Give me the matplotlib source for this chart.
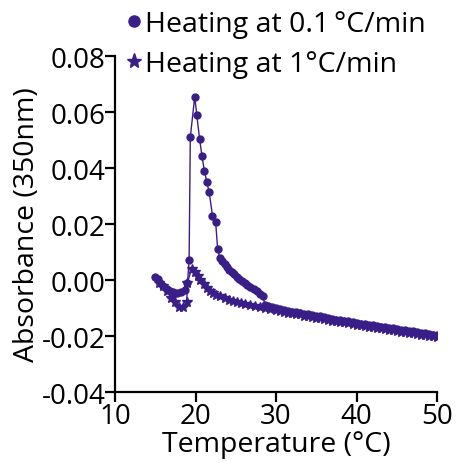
import matplotlib
matplotlib.use("Agg")
import matplotlib.pyplot as plt
from matplotlib.lines import Line2D
from matplotlib.ticker import FormatStrFormatter

plt.rcParams['font.family'] = ['Open Sans', 'DejaVu Sans']
plt.rcParams['axes.unicode_minus'] = False

purple = '#3a1e88'

# heating at 0.1 C/min (circles)
slow_temp = [15.0, 15.3, 15.6, 16.0, 16.4, 16.8, 17.2, 17.7, 18.2, 18.7,
             19.0, 19.2, 19.35, 19.9, 20.15, 20.5, 20.8, 21.1, 21.4, 21.7,
             22.1, 22.5, 22.75, 23.0, 23.3, 23.6, 23.9, 24.2, 24.5, 24.8,
             25.1, 25.4, 25.8, 26.1, 26.4, 26.8, 27.2, 27.6, 28.0, 28.4,
             28.6, 29.0, 29.5, 30.0, 30.5, 31.0, 31.5, 32.0, 32.5, 33.0,
             33.5, 34.0, 34.5, 35.0, 35.5, 36.0, 36.5, 37.0, 37.5, 38.0,
             38.5, 39.0, 39.5, 40.0, 40.5, 41.0, 41.5, 42.0, 42.5, 43.0,
             43.5, 44.0, 44.5, 45.0, 45.5, 46.0, 46.5, 47.0, 47.5, 48.0,
             48.5, 49.0, 49.5, 50.0]
slow_abs = [0.0012, 0.0002, -0.0010, -0.0022, -0.0033, -0.0038, -0.0042, -0.0045, -0.0043, -0.0035,
            -0.0010, 0.0070, 0.0510, 0.0655, 0.0590, 0.0505, 0.0442, 0.0390, 0.0350, 0.0313,
            0.0230, 0.0206, 0.0110, 0.0080, 0.0068, 0.0057, 0.0046, 0.0036, 0.0028, 0.0020,
            0.0011, 0.0003, -0.0005, -0.0012, -0.0018, -0.0025, -0.0032, -0.0040, -0.0049, -0.0058,
            -0.0088, -0.0091, -0.0095, -0.0100, -0.0103, -0.0107, -0.0109, -0.0113, -0.0115, -0.0118,
            -0.0120, -0.0123, -0.0125, -0.0128, -0.0130, -0.0133, -0.0136, -0.0138, -0.0141, -0.0143,
            -0.0146, -0.0148, -0.0151, -0.0153, -0.0156, -0.0157, -0.0160, -0.0162, -0.0164, -0.0166,
            -0.0169, -0.0170, -0.0173, -0.0175, -0.0177, -0.0179, -0.0182, -0.0183, -0.0186, -0.0188,
            -0.0190, -0.0193, -0.0195, -0.0198]

# heating at 1 C/min (stars)
fast_temp = [15.5, 16.0, 16.5, 17.0, 17.4, 17.9, 18.5, 18.9, 19.0, 19.5,
             19.9, 20.3, 20.6, 21.0, 21.4, 21.8, 22.2, 22.6, 23.1, 23.6,
             24.1, 24.6, 25.1, 25.6, 26.2, 26.8, 27.4, 28.0, 28.6, 29.3,
             30.0, 30.5, 31.0, 31.5, 32.0, 32.5, 33.0, 33.5, 34.0, 34.5,
             35.0, 35.5, 36.0, 36.5, 37.0, 37.5, 38.0, 38.5, 39.0, 39.5,
             40.0, 40.5, 41.0, 41.5, 42.0, 42.5, 43.0, 43.5, 44.0, 44.5,
             45.0, 45.5, 46.0, 46.5, 47.0, 47.5, 48.0, 48.5, 49.0, 49.5,
             50.0]
fast_abs = [-0.0010, -0.0020, -0.0040, -0.0065, -0.0080, -0.0098, -0.0098, -0.0080, -0.0010, 0.0040,
            0.0030, 0.0015, 0.0000, -0.0015, -0.0030, -0.0038, -0.0045, -0.0052, -0.0058, -0.0064,
            -0.0070, -0.0075, -0.0078, -0.0082, -0.0086, -0.0090, -0.0093, -0.0097, -0.0100, -0.0104,
            -0.0108, -0.0112, -0.0113, -0.0117, -0.0119, -0.0122, -0.0123, -0.0127, -0.0128, -0.0132,
            -0.0134, -0.0136, -0.0140, -0.0142, -0.0145, -0.0147, -0.0150, -0.0151, -0.0155, -0.0157,
            -0.0160, -0.0161, -0.0165, -0.0166, -0.0169, -0.0170, -0.0173, -0.0175, -0.0177, -0.0180,
            -0.0181, -0.0184, -0.0185, -0.0188, -0.0190, -0.0192, -0.0195, -0.0196, -0.0199, -0.0201,
            -0.0204]

x_ticks = [10, 20, 30, 40, 50]
y_ticks = [-0.04, -0.02, 0.00, 0.02, 0.04, 0.06, 0.08]
legend_labels = ['Heating at 0.1\u2009\u00b0C/min', 'Heating at 1\u00b0C/min']

fig = plt.figure(figsize=(4.62, 4.64), dpi=100)
ax = fig.add_axes([0.249, 0.153, 0.697, 0.724])

ax.plot(slow_temp, slow_abs, color=purple, lw=1.0, marker='o', markersize=5,
        markeredgecolor=purple, markerfacecolor=purple)
ax.plot(fast_temp, fast_abs, color=purple, lw=1.0, marker='*', markersize=7,
        markeredgecolor=purple, markerfacecolor=purple)

ax.set_xlim(10, 50)
ax.set_ylim(-0.04, 0.08)
ax.set_xticks(x_ticks)
ax.set_yticks(y_ticks)
ax.yaxis.set_major_formatter(FormatStrFormatter('%.2f'))

for side in ['top', 'right']:
    ax.spines[side].set_visible(False)
for side in ['left', 'bottom']:
    ax.spines[side].set_linewidth(1.6)
ax.tick_params(axis='both', direction='out', length=7, width=1.6, labelsize=20, pad=0)

ax.set_xlabel('Temperature (\u00b0C)', fontsize=20.5, labelpad=0)
ax.set_ylabel('Absorbance (350nm)', fontsize=20.5, labelpad=0)

handles = [Line2D([], [], ls='none', marker='o', color=purple, markersize=8),
           Line2D([], [], ls='none', marker='*', color=purple, markersize=11)]
fig.legend(handles, legend_labels, loc='upper left', bbox_to_anchor=(0.25, 1.0),
           frameon=False, fontsize=20.5, handlelength=0.5, handletextpad=0.15,
           labelspacing=0.4, borderaxespad=0)

fig.savefig('out.png', dpi=100)
